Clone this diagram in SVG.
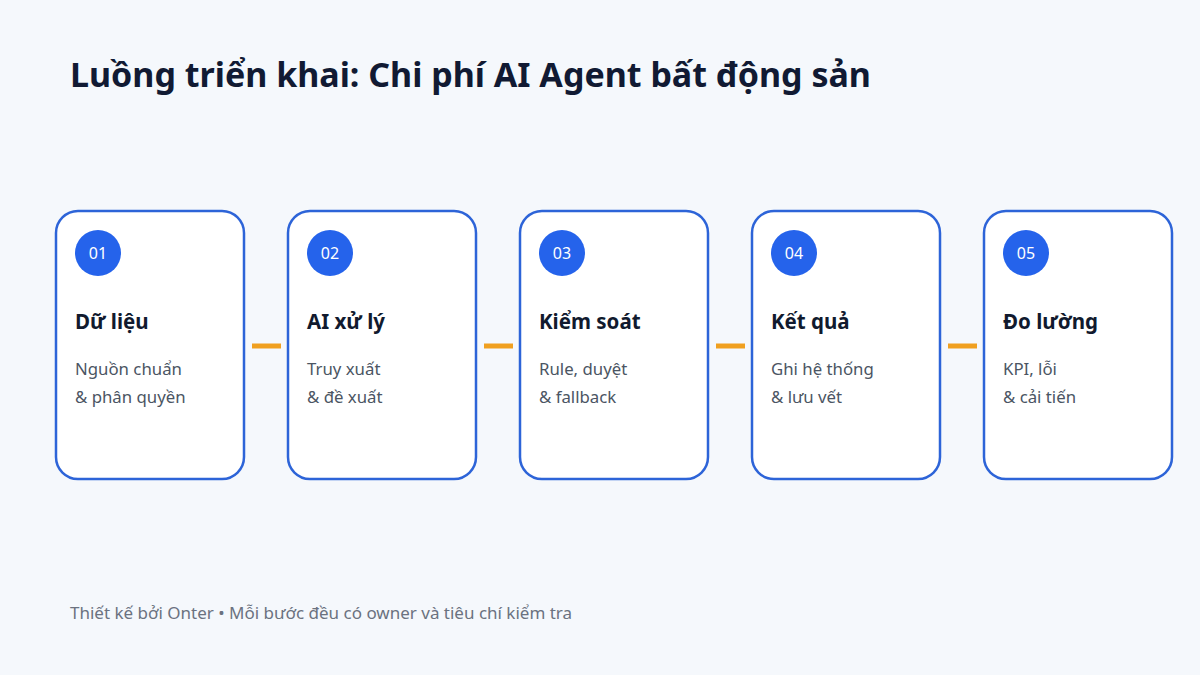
<svg xmlns="http://www.w3.org/2000/svg" width="1200" height="675" viewBox="0 0 1200 675">
<style>
.bg{fill:#f5f8fc}
.title{font-family:"Noto Sans","Open Sans",sans-serif;font-weight:700;font-size:34px;fill:#111a33}
.card{fill:#ffffff;stroke:#2d64d8;stroke-width:2.5}
.badge{fill:#2563eb}
.num{font-family:"Noto Sans",sans-serif;font-size:16px;fill:#ffffff;text-anchor:middle}
.head{font-family:"Noto Sans",sans-serif;font-weight:700;font-size:20.5px;fill:#111a2e}
.desc{font-family:"Noto Sans",sans-serif;font-size:16.8px;fill:#4b5563}
.conn{stroke:#f0a020;stroke-width:5}
.foot{font-family:"Noto Sans",sans-serif;font-size:17px;fill:#6b7280}
</style>
<rect class="bg" x="0" y="0" width="1200" height="675"/>
<text class="title" x="70" y="87">Luồng triển khai: Chi phí AI Agent bất động sản</text>
<g id="connectors">
<line class="conn" x1="252" y1="346" x2="281" y2="346"/>
<line class="conn" x1="484" y1="346" x2="513" y2="346"/>
<line class="conn" x1="716" y1="346" x2="745" y2="346"/>
<line class="conn" x1="948" y1="346" x2="977" y2="346"/>
</g>
<g id="node1">
<rect class="card" x="56" y="211" width="188" height="268" rx="22"/>
<circle class="badge" cx="98" cy="253" r="23"/>
<text class="num" x="98" y="259">01</text>
<text class="head" x="75" y="329">Dữ liệu</text>
<text class="desc" x="75" y="375">Nguồn chuẩn</text>
<text class="desc" x="75" y="403">&amp; phân quyền</text>
</g>
<g id="node2">
<rect class="card" x="288" y="211" width="188" height="268" rx="22"/>
<circle class="badge" cx="330" cy="253" r="23"/>
<text class="num" x="330" y="259">02</text>
<text class="head" x="307" y="329">AI xử lý</text>
<text class="desc" x="307" y="375">Truy xuất</text>
<text class="desc" x="307" y="403">&amp; đề xuất</text>
</g>
<g id="node3">
<rect class="card" x="520" y="211" width="188" height="268" rx="22"/>
<circle class="badge" cx="562" cy="253" r="23"/>
<text class="num" x="562" y="259">03</text>
<text class="head" x="539" y="329">Kiểm soát</text>
<text class="desc" x="539" y="375">Rule, duyệt</text>
<text class="desc" x="539" y="403">&amp; fallback</text>
</g>
<g id="node4">
<rect class="card" x="752" y="211" width="188" height="268" rx="22"/>
<circle class="badge" cx="794" cy="253" r="23"/>
<text class="num" x="794" y="259">04</text>
<text class="head" x="771" y="329">Kết quả</text>
<text class="desc" x="771" y="375">Ghi hệ thống</text>
<text class="desc" x="771" y="403">&amp; lưu vết</text>
</g>
<g id="node5">
<rect class="card" x="984" y="211" width="188" height="268" rx="22"/>
<circle class="badge" cx="1026" cy="253" r="23"/>
<text class="num" x="1026" y="259">05</text>
<text class="head" x="1003" y="329">Đo lường</text>
<text class="desc" x="1003" y="375">KPI, lỗi</text>
<text class="desc" x="1003" y="403">&amp; cải tiến</text>
</g>
<text class="foot" x="70" y="619">Thiết kế bởi Onter • Mỗi bước đều có owner và tiêu chí kiểm tra</text>
</svg>
